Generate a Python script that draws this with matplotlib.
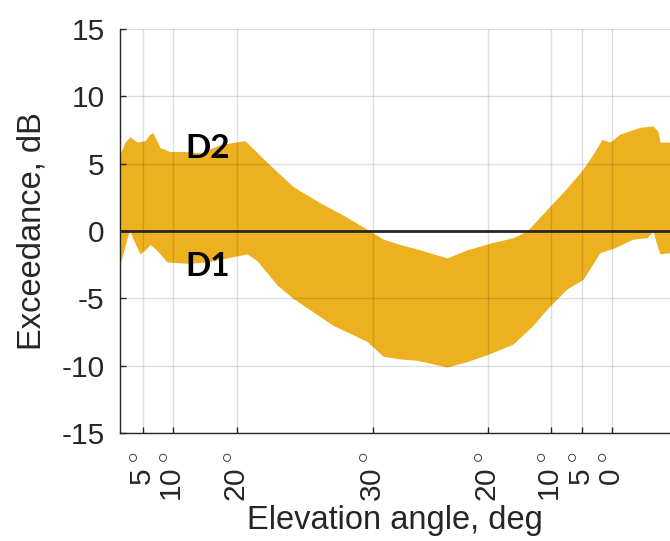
import matplotlib
matplotlib.use("Agg")
import matplotlib.pyplot as plt
import numpy as np

# sample positions along the pass (arbitrary units, left edge = 0)
x_upper = [0, 5, 10, 17, 25, 30, 33, 40, 50, 65, 80, 100, 115, 125, 132, 147, 173, 200, 225,
           250, 263, 280, 300, 327, 347, 370, 393, 407, 427, 447, 463, 473, 482, 490, 500,
           520, 533, 538, 540, 550]
d2_upper = [5.7, 6.6, 7.0, 6.6, 6.7, 7.2, 7.3, 6.2, 5.9, 5.9, 5.8, 6.4, 6.6, 6.7, 6.2, 5.1, 3.3,
            2.1, 1.1, 0.0, -0.6, -1.0, -1.4, -2.0, -1.4, -0.9, -0.5, 0.0, 1.6, 3.2, 4.6, 5.7,
            6.8, 6.6, 7.2, 7.7, 7.8, 7.4, 6.6, 6.6]

x_lower = [0, 5, 8, 10, 13, 17, 20, 25, 30, 35, 40, 47, 67, 87, 107, 127, 137, 157, 173, 213,
           247, 263, 280, 297, 327, 347, 370, 393, 413, 427, 447, 463, 480, 493, 513, 527,
           533, 536, 540, 550]
d1_lower = [-2.5, -1.1, -0.3, 0.0, -0.6, -1.2, -1.7, -1.4, -1.0, -1.3, -1.7, -2.3, -2.4, -2.3,
            -2.0, -1.7, -2.2, -4.0, -5.0, -7.0, -8.2, -9.3, -9.5, -9.6, -10.1, -9.7, -9.1,
            -8.4, -7.0, -5.8, -4.3, -3.6, -1.6, -1.3, -0.6, -0.5, 0.0, -0.8, -1.7, -1.6]

tick_pos = [23, 53, 117, 253, 368, 431, 462, 492]
tick_labels = ["5", "10", "20", "30", "20", "10", "5", "0"]
y_ticks = [-15, -10, -5, 0, 5, 10, 15]

plt.rcParams['font.family'] = ['Liberation Sans', 'DejaVu Sans']
plt.rcParams['mathtext.fontset'] = 'custom'
plt.rcParams['mathtext.rm'] = 'Liberation Sans'
plt.rcParams['mathtext.it'] = 'Liberation Sans:italic'

fig = plt.figure(figsize=(6.7, 5.41), dpi=100)
ax = fig.add_axes([120/670, 108/541, 1 - 120/670, (512 - 108)/541])

grid_x = np.linspace(0, 550, 1101)
up = np.interp(grid_x, x_upper, d2_upper)
lo = np.interp(grid_x, x_lower, d1_lower)
ax.fill_between(grid_x, lo, up, color='#EDB120', linewidth=0, zorder=1)
ax.axhline(0, color='#262626', lw=2.0, zorder=3)

ax.set_xlim(0, 550)
ax.set_ylim(-15, 15)
ax.set_xticks(tick_pos)
ax.set_xticklabels([t + r"$^{\,\circ}$" for t in tick_labels], rotation=90)
ax.set_yticks(y_ticks)
ax.set_yticklabels([str(v) for v in y_ticks])

ax.grid(True, color='black', alpha=0.13, lw=1.0, zorder=2)
ax.set_axisbelow(False)

for s in ['top', 'right']:
    ax.spines[s].set_visible(False)
for s in ['left', 'bottom']:
    ax.spines[s].set_color('#262626')
    ax.spines[s].set_linewidth(1.0)

ax.tick_params(axis='both', direction='in', length=4, width=1, colors='#262626',
               labelsize=21.5, labelcolor='#262626')
ax.tick_params(axis='x', pad=13)
ax.tick_params(axis='y', pad=11)

ax.set_xlabel('Elevation angle, deg', fontsize=23.5, color='#262626', labelpad=2)
ax.set_ylabel('Exceedance, dB', fontsize=23.5, color='#262626', labelpad=10)

ax.text(88, 6.1, 'D2', fontsize=24, family=['Lato', 'DejaVu Sans'], fontweight='bold',
        ha='center', va='center', color='black', zorder=5)
ax.text(88, -2.6, 'D1', fontsize=24, family=['Lato', 'DejaVu Sans'], fontweight='bold',
        ha='center', va='center', color='black', zorder=5)

fig.savefig('out.png', dpi=100)
